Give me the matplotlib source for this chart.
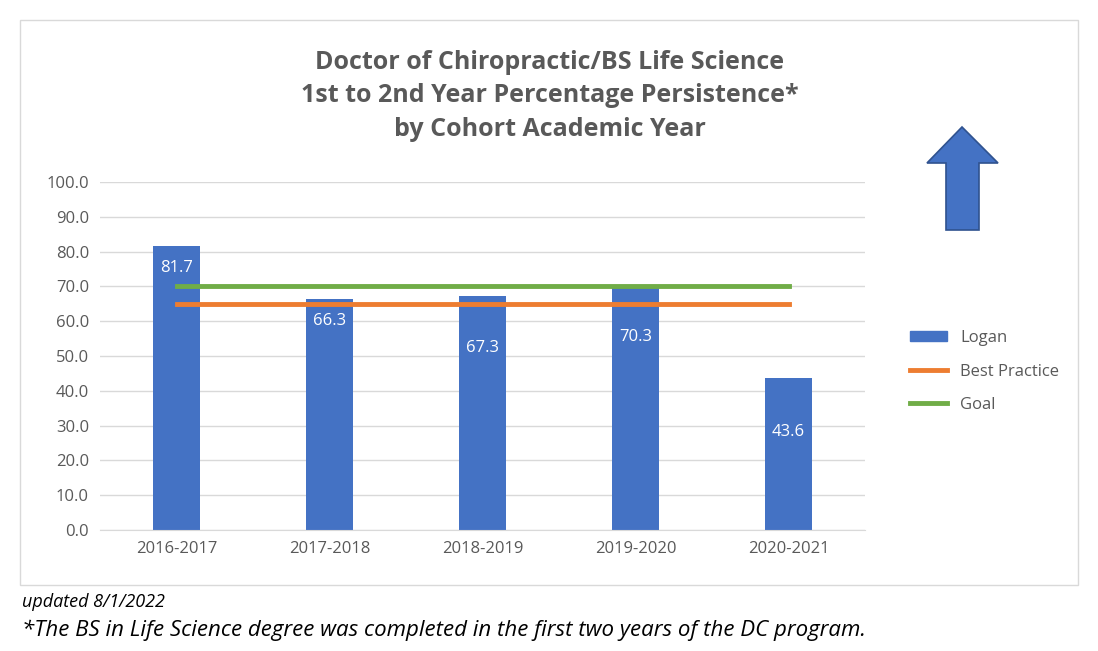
import numpy as np
import matplotlib.pyplot as plt
from matplotlib.patches import Rectangle, Polygon
from matplotlib.lines import Line2D

plt.rcParams['font.family'] = 'Open Sans'

years = ["2016-2017", "2017-2018", "2018-2019", "2019-2020", "2020-2021"]
logan = [81.7, 66.3, 67.3, 70.3, 43.6]
best_practice = [65, 65, 65, 65, 65]
goal = [70, 70, 70, 70, 70]
yticks = np.arange(0, 101, 10)

fig = plt.figure(figsize=(10.98, 6.51), dpi=100)
fig.patches.append(Rectangle((20/1098, 1-585/651), 1058/1098, 565/651, transform=fig.transFigure,
                             fill=False, edgecolor='#d9d9d9', linewidth=1))
ax = fig.add_axes([100/1098, 1-530/651, 765/1098, 348/651])

x = np.arange(len(years))
bars = ax.bar(x, logan, width=0.31, color='#4472C4', label='Logan', zorder=2)
ax.plot(x, best_practice, color='#ED7D31', lw=3.5, label='Best Practice', zorder=3)
ax.plot(x, goal, color='#70AD47', lw=3.5, label='Goal', zorder=3)

# labels inside bars (px offset below top, as Excel placed them)
offs = [22, 22, 52, 52, 54]
for xi, v, o in zip(x, logan, offs):
    ax.annotate(f"{v:.1f}", (xi, v), xytext=(0, -o), textcoords='offset pixels',
                ha='center', va='center', color='white', fontsize=12, zorder=4)

ax.set_xlim(-0.5, 4.5)
ax.set_ylim(0, 100)
ax.set_yticks(yticks)
ax.set_yticklabels([f"{t:.1f}" for t in yticks])
ax.set_xticks(x)
ax.set_xticklabels(years)
ax.tick_params(length=0, colors='#595959', labelsize=12, pad=8)
ax.yaxis.grid(True, color='#d9d9d9', lw=1, zorder=0)
for s in ['top', 'right', 'left']:
    ax.spines[s].set_visible(False)
ax.spines['bottom'].set_color('#d9d9d9')

handles = [Rectangle((0, 0), 1, 1, color='#4472C4'),
           Line2D([], [], color='#ED7D31', lw=3.5),
           Line2D([], [], color='#70AD47', lw=3.5)]
fig.legend(handles, ['Logan', 'Best Practice', 'Goal'], loc='upper left',
           bbox_to_anchor=(895/1098, 1-315/651), frameon=False, fontsize=12,
           labelcolor='#595959', handlelength=2.2, labelspacing=1.05, handleheight=0.6)

fig.text(550/1098, 1-96/651, "Doctor of Chiropractic/BS Life Science\n1st to 2nd Year Percentage Persistence*\nby Cohort Academic Year",
         ha='center', va='center', fontsize=18, fontweight='bold', color='#595959', linespacing=1.45)

# block arrow
pts = [(962, 127), (998, 163), (979, 163), (979, 230), (946, 230), (946, 163), (927, 163)]
fig.patches.append(Polygon([(px/1098, 1-py/651) for px, py in pts], closed=True,
                           transform=fig.transFigure, facecolor='#4472C4', edgecolor='#2F528F', lw=1.2))

fig.text(22/1098, 1-602/651, "updated 8/1/2022", fontsize=13, style='italic', va='center')
fig.text(22/1098, 1-630/651, "*The BS in Life Science degree was completed in the first two years of the DC program.",
         fontsize=16, style='italic', va='center')

fig.savefig("out.png", dpi=100)
